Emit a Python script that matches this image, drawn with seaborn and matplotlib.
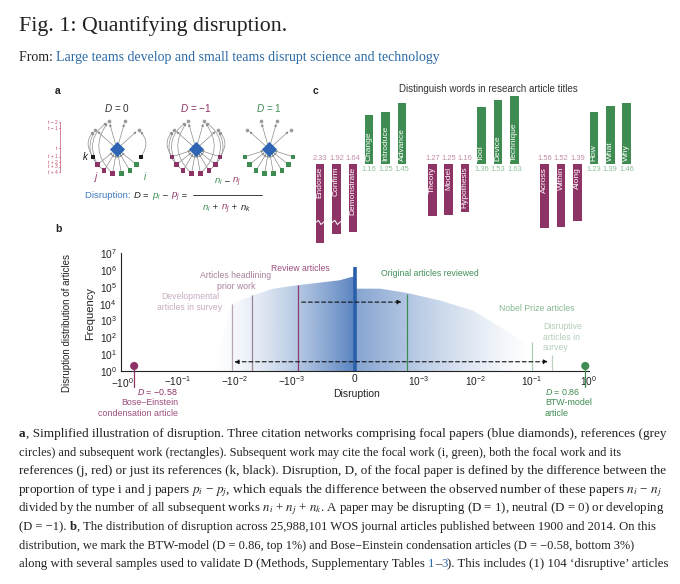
"""
Fig. 1 page: Quantifying disruption (network sketch, title words, disruption distribution).
"""
import numpy as np
import pandas as pd
import matplotlib
matplotlib.use('Agg')
import matplotlib.pyplot as plt
from matplotlib.patches import FancyArrowPatch
from matplotlib.colors import to_rgb
from matplotlib.ticker import NullLocator
from matplotlib.transforms import ScaledTranslation
import seaborn as sns

W, H = 680, 584

MAG, GRN, BLUE = '#8e3366', '#3e8c52', '#2f66b3'
MAG_LIGHT, GRN_LIGHT = '#c48ca9', '#8fbf99'
LINK = '#2c6aa6'
INK = '#222222'

# ---- panel a: citation networks
NET_TITLES = [r'$D$ = 0', r'$D$ = −1', r'$D$ = 1']
NET_TITLE_COLORS = ['#333333', MAG, GRN]
NET_SUBS = [list('kjjjiiik'), list('jjjjjjjj'), list('iiiiiiii')]
N_REFS = 4
TIME_LABELS = ['t − 2', 't − 1', 't', 't + 1', 't + 2', 't + 3', 't + 4']

# ---- panel c: distinguishing title words
DEV_WORDS = [['Endorse', 'Confirm', 'Demonstrate'], ['Theory', 'Model', 'Hypothesis'],
             ['Across', 'Within', 'Along']]
DEV_VALS = [[2.33, 1.92, 1.64], [1.27, 1.25, 1.16], [1.56, 1.52, 1.39]]
DIS_WORDS = [['Change', 'Introduce', 'Advance'], ['Tool', 'Device', 'Technique'],
             ['How', 'What', 'Why']]
DIS_VALS = [[1.16, 1.25, 1.45], [1.36, 1.53, 1.63], [1.23, 1.39, 1.46]]
BREAK_AT = 1.8

# ---- panel b: distribution of disruption
CURVE_D = [-0.024, -0.0112, -0.0048, -0.0021, -0.00092, -0.00024, -0.00005, 0.0,
           0.0, 0.00003, 0.0004, 0.00082, 0.0024, 0.0091, 0.018, 0.036, 0.09, 0.31, 1.0]
CURVE_LOGF = [0.0, 4.0, 4.5, 4.9, 5.1, 5.4, 5.6, 5.6,
              4.9, 4.9, 4.9, 4.65, 4.2, 3.6, 3.0, 2.4, 1.5, 0.7, 0.0]
ZERO_LOGF = 6.2
MARK_NAMES = ['Developmental\narticles in survey', 'Articles headlining\nprior work',
              'Review articles', 'Original articles reviewed', 'Nobel Prize articles',
              'Disruptive\narticles in\nsurvey']
MARK_D = [-0.011, -0.005, -0.0009, 0.00082, 0.1, 0.22]
MARK_LOGF = [4.0, 4.5, 5.1, 4.6, 1.7, 0.95]
MARK_LINE_COLORS = ['#b9a6b5', '#9c8297', '#8b3a6b', '#3e8c52', '#a9d0b0', '#bcd3c0']
MARK_TEXT_COLORS = ['#c8acc1', '#a8809d', '#9b4d7d', '#3f8f55', '#86b891', '#b3ceb8']
ARROW_FROM = [-0.00084, -0.0101]
ARROW_TO = [0.00074, 0.19]
ARROW_LOGF = [4.1, 0.55]
CASE_NAMES = ['Bose–Einstein\ncondensation article', 'BTW-model\narticle']
CASE_D = [-0.58, 0.86]
CASE_LOGF = [0.3, 0.3]
XTICKS = [-1, -0.1, -0.01, -0.001, 0, 0.001, 0.01, 0.1, 1]
XTICKLABELS = [r'$-10^{0}$', r'$-10^{-1}$', r'$-10^{-2}$', r'$-10^{-3}$', '0',
               r'$10^{-3}$', r'$10^{-2}$', r'$10^{-1}$', r'$10^{0}$']
YEXP = list(range(8))

N, B, L = {}, {'fontweight': 'bold'}, {'color': LINK}
TITLE = 'Fig. 1: Quantifying disruption.'
SOURCE = [('From: ', N), ('Large teams develop and small teams disrupt science and technology', L)]
CAPTION = [
    [('a', B), (', Simplified illustration of disruption. Three citation networks comprising focal papers (blue diamonds), references (grey', N)],
    [('circles) and subsequent work (rectangles). Subsequent work may cite the focal work (i, green), both the focal work and its', N)],
    [('references (j, red) or just its references (k, black). Disruption, D, of the focal paper is defined by the difference between the', N)],
    [(r'proportion of type i and j papers $p_i$ − $p_j$, which equals the difference between the observed number of these papers $n_i$ − $n_j$', N)],
    [(r'divided by the number of all subsequent works $n_i$ + $n_j$ + $n_k$. A paper may be disrupting (D = 1), neutral (D = 0) or developing', N)],
    [('(D = −1). ', N), ('b', B), (', The distribution of disruption across 25,988,101 WOS journal articles published between 1900 and 2014. On this', N)],
    [('distribution, we mark the BTW-model (D = 0.86, top 1%) and Bose−Einstein condensation articles (D = −0.58, bottom 3%)', N)],
    [('along with several samples used to validate D (Methods, Supplementary Tables ', N), ('1', L), ('–', N), ('3', L),
     ('). This includes (1) 104 \u2018disruptive\u2019 articles', N)],
]
CAP_RIGHT = [664, 617, 662, 662, 661, 655, 634, 666]

sns.set_theme(style='white')
plt.rcParams['font.family'] = ['Liberation Sans', 'DejaVu Sans']
plt.rcParams['mathtext.fontset'] = 'custom'
plt.rcParams['mathtext.rm'] = 'Liberation Sans'
plt.rcParams['mathtext.it'] = 'Liberation Sans:italic'
plt.rcParams['mathtext.bf'] = 'Liberation Sans:bold'
SERIF = dict(fontfamily=['Liberation Serif', 'DejaVu Serif'], math_fontfamily='stix', color=INK)

fig = plt.figure(figsize=(W / 100, H / 100), dpi=100, facecolor='white')
R = fig.canvas.get_renderer()


def fxy(x, y):
    return x / W, 1 - y / H


def px_axes(x0, y0, x1, y1):
    return fig.add_axes([x0 / W, 1 - y1 / H, (x1 - x0) / W, (y1 - y0) / H])


def width(s, **kw):
    a = fig.text(0, 0, '|' + s + '|', **kw)
    b = fig.text(0, 0, '||', **kw)
    w = a.get_window_extent(R).width - b.get_window_extent(R).width
    a.remove(); b.remove()
    return w


def chain(x, y, parts, ha='left', **base):
    ws = [width(s, **{**base, **kw}) for s, kw in parts]
    if ha == 'center':
        x -= sum(ws) / 2
    for (s, kw), w in zip(parts, ws):
        fig.text(*fxy(x, y), s, va='baseline', ha='left', **{**base, **kw})
        x += w


def fit(parts, target, **base):
    return 10 * target / sum(width(s, fontsize=10, **{**base, **kw}) for s, kw in parts)


# ---------------- page header + caption
chain(19, 31, [(TITLE, N)], fontsize=fit([(TITLE, N)], 268, **SERIF), **SERIF)
chain(19, 61, SOURCE, fontsize=fit(SOURCE, 420, **SERIF), **SERIF)
for n, (line, right) in enumerate(zip(CAPTION, CAP_RIGHT)):
    x0 = 18 if '$' in line[0][0] else 19
    chain(x0, 437 + n * 18.6, line, fontsize=fit(line, right - x0, **SERIF), **SERIF)

for lab, x, y in [('a', 55, 94), ('c', 313, 94), ('b', 55, 232)]:
    fig.text(*fxy(x, y), lab, fontsize=7.5, fontweight='bold', color=INK, va='baseline')

# ---------------- panel a (pixel-unit axes)
ax_a = px_axes(40, 80, 310, 252)
ax_a.set_xlim(40, 310)
ax_a.set_ylim(252, 80)
ax_a.axis('off')
ax_a.patch.set_visible(False)

NET_X, NET_Y = [117, 196, 269], 149
REF_ANG = np.deg2rad(np.linspace(138, 42, N_REFS))
SUB_ANG = np.deg2rad(np.linspace(198, 342, 8))
TYPE_COL = {'i': GRN, 'j': MAG, 'k': '#1a1a1a'}


def arrow(p, q, rad=0.0, shrink=2.0):
    ax_a.add_patch(FancyArrowPatch(p, q, arrowstyle='-|>', mutation_scale=3.5, lw=0.5,
                                   color='#8c8c8c', connectionstyle=f'arc3,rad={rad}',
                                   shrinkA=1.5, shrinkB=shrink, zorder=2))


for title, tcol, subs, cx in zip(NET_TITLES, NET_TITLE_COLORS, NET_SUBS, NET_X):
    rx, ry = cx + 29 * np.cos(REF_ANG), NET_Y - 29 * np.sin(REF_ANG)
    sx, sy = cx + 25 * np.cos(SUB_ANG), NET_Y - 25 * np.sin(SUB_ANG)
    for x, y in zip(rx, ry):
        arrow((cx, NET_Y), (x, y), shrink=2.0)
    for n, (x, y, t) in enumerate(zip(sx, sy, subs)):
        if t in 'ij':
            arrow((x, y), (cx, NET_Y), shrink=4.0)
        if t in 'jk':
            left = x < cx
            r = (n % 2) if left else 2 + (n % 2)
            arrow((x, y), (rx[r], ry[r]), rad=-0.45 if left else 0.45)
    ax_a.scatter(rx, ry, s=7, color='#9a9a9a', linewidth=0, zorder=4)
    ax_a.scatter(sx, sy, s=10, marker='s', color=[TYPE_COL[t] for t in subs], linewidth=0, zorder=4)
    ax_a.scatter([cx], [NET_Y], s=60, marker='D', color=BLUE, linewidth=0, zorder=5)
    ax_a.text(cx, 108, title, ha='center', va='center', fontsize=7.2, color=tcol)
    if subs[0] == 'k':
        ax_a.text(sx[0] - 6, sy[0], 'k', ha='right', va='center', fontsize=7, style='italic', color='#1a1a1a')
        ax_a.text(sx[1] - 2, sy[1] + 12, 'j', ha='center', va='center', fontsize=7, style='italic', color=MAG)
        ax_a.text(sx[6] + 8, sy[6] + 12, 'i', ha='center', va='center', fontsize=7, style='italic', color=GRN)

# time axis on the left
TIME_Y = [122, 128, 148, 157, 162, 167, 172]
ax_a.plot([60, 60], [TIME_Y[0], TIME_Y[-1]], color='#c4506e', lw=0.5)
for lab, y in zip(TIME_LABELS, TIME_Y):
    ax_a.plot([58.5, 60], [y, y], color='#c4506e', lw=0.5)
    ax_a.text(57.5, y, lab, ha='right', va='center', fontsize=3.6, color='#c4506e')

# formula
FORM = [('Disruption: ', {'color': '#3d78c2'}), (r'$D$ = ', N), (r'$p_i$', {'color': GRN}),
        (' − ', N), (r'$p_j$', {'color': MAG}), (' =', N)]
chain(85, 198, FORM, fontsize=6.8, color=INK)
chain(227, 184, [(r'$n_i$', {'color': GRN}), (' − ', N), (r'$n_j$', {'color': MAG})],
      ha='center', fontsize=6.8, color=INK)
chain(226, 210, [(r'$n_i$', {'color': GRN}), (' + ', N), (r'$n_j$', {'color': MAG}), (' + ', N),
                 (r'$n_k$', {'color': INK})], ha='center', fontsize=6.8, color=INK)
ax_a.plot([193, 262], [195, 195], color=INK, lw=0.6)

# ---------------- panel c
rows = []
GROUP_STEP = 6.85
for g in range(3):
    for s in range(3):
        rows.append(dict(word=DEV_WORDS[g][s], value=DEV_VALS[g][s], pos=g * GROUP_STEP + s, kind='dev'))
    for s in range(3):
        rows.append(dict(word=DIS_WORDS[g][s], value=DIS_VALS[g][s], pos=g * GROUP_STEP + 3 + s, kind='dis'))
dfc = pd.DataFrame(rows)
dfc['broken'] = dfc['value'] > BREAK_AT
dfc['shown'] = np.where(dfc['broken'], 1.5 + (dfc['value'] - 1.5) * 0.5, dfc['value'])
dfc['height'] = np.where(dfc['kind'] == 'dev', -dfc['shown'], dfc['shown'])

ax_c = px_axes(300, 85, 645, 250)
sns.barplot(data=dfc, x='pos', y='height', hue='kind', palette={'dev': MAG, 'dis': GRN},
            native_scale=True, orient='x', width=0.52, saturation=1, errorbar=None,
            dodge=False, legend=False, linewidth=0, ax=ax_c)
for _, r in dfc.iterrows():
    if r['kind'] == 'dev':
        ax_c.text(r['pos'], -0.08, r['word'], rotation=90, ha='center', va='top', fontsize=6, color='white')
        ax_c.text(r['pos'], 0.13, f"{r['value']:.2f}", ha='center', va='center', fontsize=5.4, color=MAG_LIGHT)
    else:
        ax_c.text(r['pos'], 0.06, r['word'], rotation=90, ha='center', va='bottom', fontsize=6, color='white')
        ax_c.text(r['pos'], -0.14, f"{r['value']:.2f}", ha='center', va='center', fontsize=5.4, color=GRN_LIGHT)
    if r['broken']:
        ax_c.plot(r['pos'] + np.array([-0.26, -0.1, 0.06, 0.26]), -1.42 + np.array([0, 0.05, -0.05, 0.02]),
                  color='white', lw=0.7)
ax_c.set_xlim((300 - 320) / 16.4, (645 - 320) / 16.4)
ax_c.set_ylim(-(250 - 163.5) / 41.5, (163.5 - 85) / 41.5)
ax_c.axis('off')
ax_c.patch.set_visible(False)
fig.text(*fxy(488, 89), 'Distinguish words in research article titles', ha='center', va='center',
         fontsize=7, color='#333333')

# ---------------- panel b
BX0, BY0, BX1, BY1 = 120.7, 253.4, 589, 371
ax_g = px_axes(BX0, BY0, BX1, BY1)
ax_b = px_axes(BX0, BY0, BX1, BY1)
ax_g.set_zorder(0)
ax_b.set_zorder(1)
ax_b.patch.set_visible(False)
ax_b.set_xscale('symlog', linthresh=1e-3, linscale=1.0)
ax_b.set_yscale('log')

f = np.linspace(0, 1, 900)
alpha = np.where(f < 0.5, np.clip((f - 0.19) / 0.31, 0, 1) ** 1.6 * 0.85,
                 np.clip((0.88 - f) / 0.38, 0, 1) ** 1.3 * 0.62)
rgba = np.zeros((1, f.size, 4))
rgba[..., :3] = to_rgb('#3a6cb4')
rgba[0, :, 3] = alpha
im = ax_g.imshow(rgba, extent=(0, 1, 0, 1), aspect='auto', interpolation='bilinear')
ax_g.set_xlim(0, 1)
ax_g.set_ylim(0, 1)
ax_g.axis('off')
poly = ax_b.fill_between(CURVE_D, 1, 10 ** np.array(CURVE_LOGF), facecolor='none', edgecolor='none')
im.set_clip_path(poly.get_paths()[0], poly.get_transform())

ax_b.vlines(MARK_D, 1, 10 ** np.array(MARK_LOGF), colors=MARK_LINE_COLORS, lw=0.9, zorder=3)
ax_b.vlines(0, 1, 10 ** ZERO_LOGF, color='#2b5fa9', lw=2.6, zorder=3)
for a, b, lf, st in zip(ARROW_FROM, ARROW_TO, ARROW_LOGF, ['-|>', '<|-|>']):
    ax_b.annotate('', xy=(b, 10 ** lf), xytext=(a, 10 ** lf),
                  arrowprops=dict(arrowstyle=st, color='#111111', lw=0.8, linestyle=(0, (3.5, 2.5)),
                                  mutation_scale=6, shrinkA=0, shrinkB=0))

case_df = pd.DataFrame({'D': CASE_D, 'F': 10 ** np.array(CASE_LOGF), 'case': CASE_NAMES})
for d, fv, c in zip(CASE_D, case_df['F'], [MAG, GRN]):
    ax_b.plot([d, d], [fv, 10 ** -0.95], color=c, lw=0.9, clip_on=False, zorder=4)
sns.scatterplot(data=case_df, x='D', y='F', hue='case', palette=[MAG, GRN], s=34, linewidth=0,
                legend=False, clip_on=False, zorder=5, ax=ax_b)

ax_b.set_xlim(-1, 1)
ax_b.set_ylim(1, 1e7)
ax_b.set_xticks(XTICKS, labels=XTICKLABELS)
ax_b.set_yticks([10.0 ** k for k in YEXP], labels=[rf'$10^{{{k}}}$' for k in YEXP])
ax_b.xaxis.set_minor_locator(NullLocator())
ax_b.yaxis.set_minor_locator(NullLocator())
ax_b.tick_params(direction='in', length=3, width=0.7, labelsize=7.3, colors=INK)
ax_b.tick_params(axis='x', pad=2.2)
ax_b.tick_params(axis='y', pad=3.0)
# keep the -10^0 label clear of the 10^0 label at the corner
first = ax_b.get_xticklabels()[0]
first.set_transform(first.get_transform() + ScaledTranslation(0.02, -0.025, fig.dpi_scale_trans))
ax_b.set_xlabel('')
ax_b.set_ylabel('')
sns.despine(ax=ax_b)
for sp in ['left', 'bottom']:
    ax_b.spines[sp].set_linewidth(0.8)
    ax_b.spines[sp].set_color(INK)

for name, x, y, ha, col in zip(MARK_NAMES, [190, 236, 300, 430, 537, 543], [302, 281, 268, 273, 309, 337],
                               ['center', 'center', 'center', 'center', 'center', 'left'], MARK_TEXT_COLORS):
    fig.text(*fxy(x, y), name, ha=ha, va='center', fontsize=6.2, color=col, linespacing=1.25)

fig.text(*fxy(178, 392), r'$D$ = −0.58', ha='right', va='center', fontsize=6.4, color=MAG)
fig.text(*fxy(178, 408), CASE_NAMES[0], ha='right', va='center', fontsize=6.4, color='#9b4d7d',
         multialignment='right', linespacing=1.2)
fig.text(*fxy(545, 392), r'$D$ = 0.86', ha='left', va='center', fontsize=6.4, color=GRN)
fig.text(*fxy(545, 408), CASE_NAMES[1], ha='left', va='center', fontsize=6.4, color=GRN, linespacing=1.2)

fig.text(*fxy(356, 394), 'Disruption', ha='center', va='center', fontsize=7.5, color=INK)
fig.text(*fxy(90, 313), 'Frequency', ha='center', va='center', rotation=90, fontsize=8, color=INK)
fig.text(*fxy(67, 323), 'Disruption distribution of articles', ha='center', va='center', rotation=90,
         fontsize=7, color=INK)

fig.savefig('out.png', dpi=100, facecolor='white')
